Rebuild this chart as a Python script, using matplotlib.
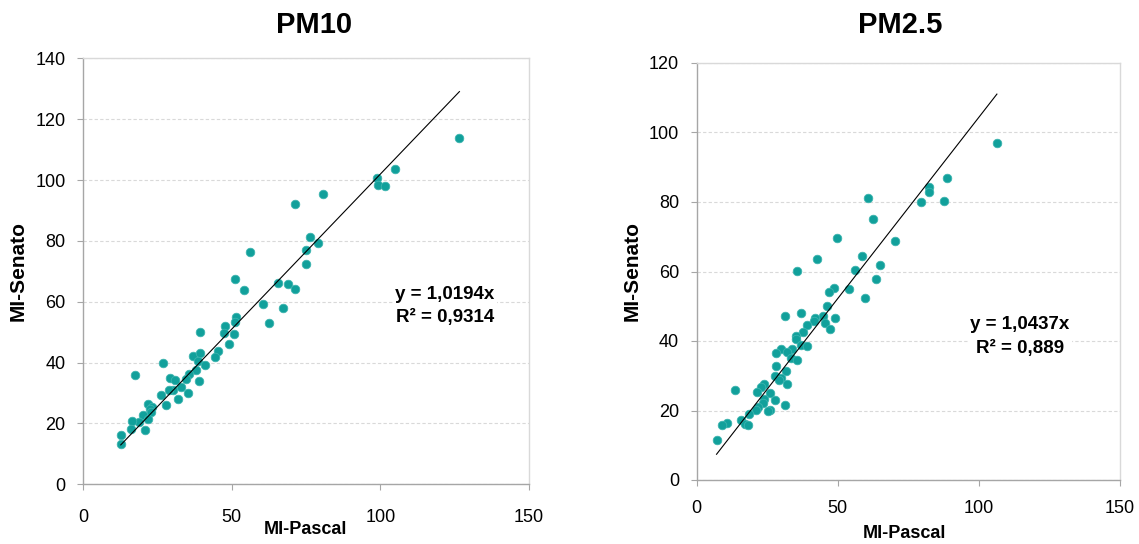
import matplotlib
matplotlib.use("Agg")
import matplotlib.pyplot as plt
import numpy as np

# PM10: MI-Pascal (x) vs MI-Senato (y)
pm10_pascal = [126.6, 105.1, 99.0, 99.3, 101.5, 80.6, 71.3, 76.4, 78.9, 75.0,
               75.1, 56.1, 65.7, 68.9, 71.2, 51.1, 54.0, 60.7, 67.4, 62.6,
               51.5, 51.2, 47.8, 47.5, 50.8, 49.0, 39.3, 45.3, 44.3, 37.1,
               39.4, 38.7, 40.9, 38.0, 38.9, 35.5, 34.7, 29.3, 31.0, 27.0,
               17.4, 33.0, 30.4, 28.8, 35.3, 31.9, 26.1, 27.9, 22.0, 23.1,
               22.4, 22.9, 20.1, 21.8, 19.0, 16.4, 16.0, 21.0, 12.7, 12.7]
pm10_senato = [113.7, 103.5, 100.5, 98.4, 98.1, 95.3, 92.0, 81.4, 79.4, 76.9,
               72.4, 76.3, 66.1, 65.7, 64.3, 67.5, 63.7, 59.4, 57.8, 53.1,
               55.0, 53.4, 52.1, 49.8, 49.3, 46.2, 50.0, 43.8, 41.8, 42.3,
               43.1, 40.5, 39.1, 37.4, 33.8, 36.3, 34.6, 34.8, 34.2, 39.8,
               35.9, 32.0, 30.9, 30.9, 30.0, 28.0, 29.2, 26.2, 26.5, 25.4,
               24.8, 23.8, 22.7, 21.6, 20.5, 20.8, 18.3, 18.0, 16.1, 13.2]

# PM2.5: MI-Pascal (x) vs MI-Senato (y)
pm25_pascal = [106.4, 88.9, 82.4, 82.4, 79.4, 87.5, 60.9, 62.4, 70.4, 49.6,
               42.6, 58.6, 65.0, 56.1, 35.7, 63.6, 54.1, 59.8, 48.7, 47.0,
               46.1, 31.4, 37.0, 42.0, 41.6, 44.9, 45.4, 49.2, 47.3, 39.2,
               37.6, 35.2, 35.2, 37.0, 39.0, 33.9, 30.1, 28.3, 31.9, 33.5,
               35.7, 28.1, 31.6, 27.7, 30.0, 29.2, 32.0, 24.0, 22.8, 21.6,
               13.7, 26.1, 23.9, 27.9, 23.4, 31.4, 21.9, 25.9, 25.2, 21.0,
               18.7, 15.7, 17.1, 18.3, 10.9, 9.1, 7.1]
pm25_senato = [96.9, 86.8, 84.2, 82.9, 80.0, 80.4, 81.2, 75.0, 68.9, 69.6,
               63.5, 64.4, 62.0, 60.3, 60.1, 57.7, 54.9, 52.4, 55.2, 54.1,
               50.2, 47.3, 48.2, 46.7, 45.8, 47.3, 45.2, 46.7, 43.4, 44.5,
               42.6, 41.5, 40.5, 38.8, 38.6, 37.8, 37.8, 36.6, 36.7, 35.1,
               34.4, 32.8, 31.4, 29.8, 29.4, 28.7, 27.5, 27.5, 26.8, 25.3,
               25.8, 24.9, 23.4, 22.9, 22.1, 21.7, 21.0, 20.1, 19.8, 20.1,
               18.9, 17.4, 16.2, 15.9, 16.4, 15.7, 11.6]

titles = ["PM10", "PM2.5"]
slopes = [1.0194, 1.0437]
r2_labels = ["0,9314", "0,889"]
slope_labels = ["1,0194", "1,0437"]
x_ticks = [0, 50, 100, 150]
y_ticks_pm10 = [0, 20, 40, 60, 80, 100, 120, 140]
y_ticks_pm25 = [0, 20, 40, 60, 80, 100, 120]

W, H = 1139, 544
fig = plt.figure(figsize=(W / 100, H / 100), dpi=100)
fig.patch.set_facecolor("white")

SANS = ["Liberation Sans", "DejaVu Sans"]


def px_axes(left, top, right, bottom):
    return fig.add_axes([left / W, 1 - bottom / H, (right - left) / W, (bottom - top) / H])


def style(ax, yticks, xpad):
    ax.set_xlim(0, 150)
    ax.set_ylim(0, yticks[-1])
    ax.set_xticks(x_ticks)
    ax.set_yticks(yticks)
    ax.tick_params(axis="both", direction="out", length=4.5, width=0.8,
                   color="#A6A6A6", labelsize=13)
    ax.tick_params(axis="y", pad=8)
    ax.tick_params(axis="x", pad=xpad)
    for lab in ax.get_xticklabels() + ax.get_yticklabels():
        lab.set_family(SANS)
    for side in ["left", "bottom"]:
        ax.spines[side].set_color("#A6A6A6")
        ax.spines[side].set_linewidth(1.0)
    for side in ["top", "right"]:
        ax.spines[side].set_color("#D9D9D9")
        ax.spines[side].set_linewidth(1.0)
    ax.yaxis.grid(True, linestyle=(0, (3, 2)), color="#D9D9D9", linewidth=0.8)
    ax.set_axisbelow(True)


def panel(ax, xs, ys, slope, slabel, rlabel, text_xy):
    ax.scatter(xs, ys, s=38, color="#11A09B", edgecolors="#3BB3AE",
               linewidths=0.6, zorder=3)
    xline = np.array([min(xs), max(xs)])
    ax.plot(xline, slope * xline, color="black", linewidth=0.8, zorder=4)
    ax.text(text_xy[0], text_xy[1], f"y = {slabel}x\nR² = {rlabel}",
            transform=ax.transData, ha="center", va="center",
            fontsize=13.5, fontweight="bold", family=SANS, linespacing=1.5,
            bbox=dict(facecolor="white", edgecolor="none", pad=2), zorder=5)


ax1 = px_axes(83, 58.3, 529, 484.3)
style(ax1, y_ticks_pm10, 13)
panel(ax1, pm10_pascal, pm10_senato, slopes[0], slope_labels[0], r2_labels[0],
      ((445 - 83) / 446 * 150, (484.3 - 306) / 426 * 140))

ax2 = px_axes(696.5, 63, 1120, 480)
style(ax2, y_ticks_pm25, 10)
panel(ax2, pm25_pascal, pm25_senato, slopes[1], slope_labels[1], r2_labels[1],
      ((1020 - 696.5) / 423.5 * 150, (480 - 336.7) / 417 * 120))

# titles and axis labels
fig.text(314 / W, 1 - 25 / H, titles[0], ha="center", va="center",
         fontsize=21, fontweight="bold", family=SANS)
fig.text(900 / W, 1 - 25 / H, titles[1], ha="center", va="center",
         fontsize=21, fontweight="bold", family=SANS)
fig.text(305.5 / W, 1 - 530 / H, "MI-Pascal", ha="center", va="center",
         fontsize=13, fontweight="bold", family=SANS)
fig.text(904 / W, 1 - 533 / H, "MI-Pascal", ha="center", va="center",
         fontsize=13, fontweight="bold", family=SANS)
fig.text(18.5 / W, 1 - 271 / H, "MI-Senato", ha="center", va="center",
         rotation=90, fontsize=15, fontweight="bold", family=SANS)
fig.text(632 / W, 1 - 271 / H, "MI-Senato", ha="center", va="center",
         rotation=90, fontsize=15, fontweight="bold", family=SANS)

fig.savefig("out.png", dpi=100)
